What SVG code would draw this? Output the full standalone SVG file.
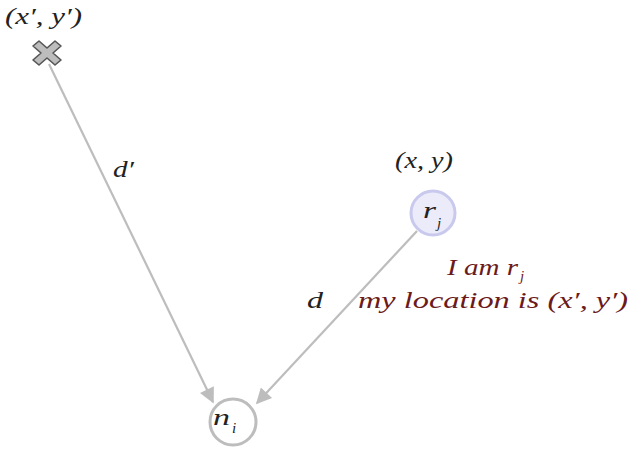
<svg xmlns="http://www.w3.org/2000/svg" width="631" height="452" viewBox="0 0 631 452">
<style>
.t{font-family:"Liberation Serif","Times New Roman",serif;font-style:italic;fill:#222;font-size:23px}
.s{font-size:15px}
.r{fill:#6b1b1b}
.e{stroke:#bdbdbd;stroke-width:2.2;fill:none}
</style>
<defs>
<marker id="ah" viewBox="0 0 10 10" refX="9" refY="5" markerWidth="8" markerHeight="7" orient="auto" markerUnits="strokeWidth">
<path d="M0,0 L10,5 L0,10 z" fill="#bdbdbd"/>
</marker>
</defs>
<rect width="631" height="452" fill="#fff"/>
<g id="connectors">
<line class="e" x1="49" y1="64" x2="213" y2="402" marker-end="url(#ah)"/>
<line class="e" x1="417" y1="231" x2="257" y2="403" marker-end="url(#ah)"/>
<text class="t" x="113" y="177" textLength="21" lengthAdjust="spacingAndGlyphs">d′</text>
<text class="t" x="307" y="308" textLength="16" lengthAdjust="spacingAndGlyphs">d</text>
</g>
<g id="anchor">
<text class="t" x="5" y="24" textLength="77" lengthAdjust="spacingAndGlyphs">(x′, y′)</text>
<path d="M39,41 L47,48 L55,41 L61,46 L53,53 L61,60 L55,65 L47,58 L39,65 L33,60 L41,53 L33,46 Z" fill="#bdbdbd" stroke="#555" stroke-width="1.6" stroke-linejoin="round"/>
</g>
<g id="rj">
<text class="t" x="395" y="168" textLength="58" lengthAdjust="spacingAndGlyphs">(x, y)</text>
<circle cx="433" cy="213" r="22" fill="#ebebfa" stroke="#c9c9ee" stroke-width="3"/>
<text class="t" x="423" y="218" textLength="13" lengthAdjust="spacingAndGlyphs">r</text>
<text class="t s" x="437" y="228">j</text>
<text class="t r" x="447" y="275" textLength="71" lengthAdjust="spacingAndGlyphs">I am r</text>
<text class="t r s" x="520" y="281">j</text>
<text class="t r" x="358" y="308" textLength="270" lengthAdjust="spacingAndGlyphs">my location is (x′, y′)</text>
</g>
<g id="ni">
<circle cx="233" cy="422" r="23" fill="#fff" stroke="#bdbdbd" stroke-width="3"/>
<text class="t" x="213" y="425" textLength="17" lengthAdjust="spacingAndGlyphs">n</text>
<text class="t s" x="232" y="433">i</text>
</g>
</svg>
